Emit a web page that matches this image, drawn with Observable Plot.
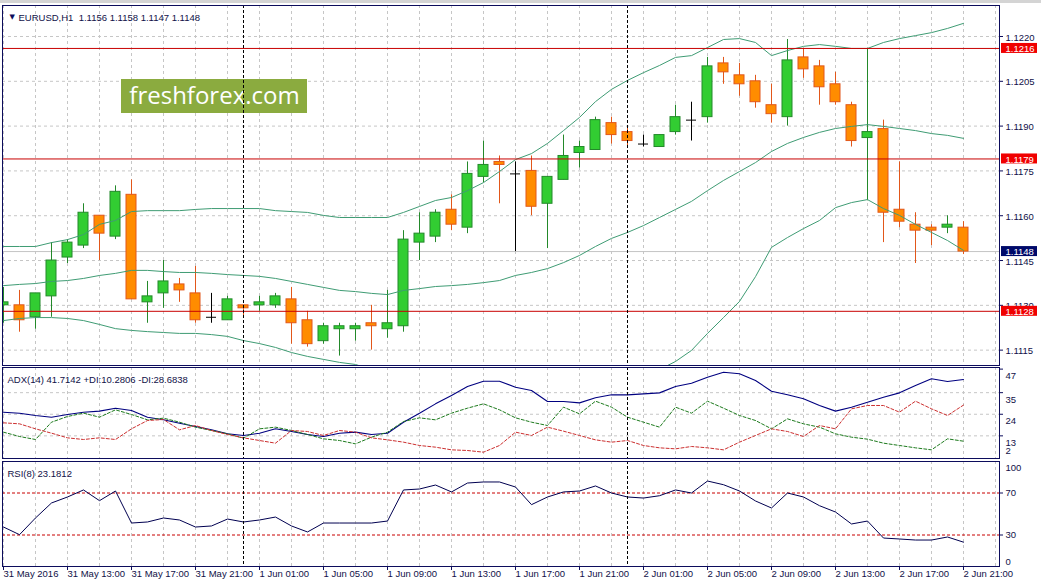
<!DOCTYPE html>
<html><head><meta charset="utf-8">
<script src="https://cdn.jsdelivr.net/npm/d3@7"></script>
<script src="https://cdn.jsdelivr.net/npm/@observablehq/plot@0.6"></script>
<style>
html,body{margin:0;padding:0;background:#fff;overflow:hidden;}
#wrap{position:relative;width:1041px;height:587px;overflow:hidden;background:#fff;}
#wrap svg{position:absolute;left:0;top:0;}
#topbar{position:absolute;left:0;top:0;width:1041px;height:3px;background:#d4d4d4;}
</style></head><body><div id="wrap"><div id="topbar"></div></div>
<script>
// ---------- DATA ----------
const open  = [1.1130,1.1130,1.1126,1.1133,1.1146,1.1150,1.1160,1.1153,1.1167,1.1131,
               1.1134,1.1137,1.1134,1.1126,1.1125,1.1130,1.1130,1.1130,1.1132,1.1125,
               1.1118,1.1122,1.1122,1.1124,1.1122,1.1123,1.1151,1.1153,1.1162,1.1156,
               1.1173,1.1178,1.1174,1.1175,1.1164,1.1172,1.1181,1.1182,1.1191,1.1188,
               1.1184,1.1183,1.1188,1.1192,1.1193,1.1211,1.1207,1.1205,1.1197,1.1193,
               1.1213,1.1210,1.1204,1.1197,1.1186,1.1189,1.1162,1.1157,1.1156,1.1156,
               1.1156];
const high  = [1.1136,1.1135,1.1134,1.1151,1.1152,1.1164,1.1160,1.1170,1.1172,1.1138,
               1.1145,1.1139,1.1143,1.1134,1.1133,1.1130,1.1133,1.1134,1.1136,1.1128,
               1.1124,1.1124,1.1124,1.1130,1.1135,1.1155,1.1161,1.1162,1.1167,1.1178,
               1.1185,1.1180,1.1178,1.1180,1.1173,1.1187,1.1185,1.1193,1.1193,1.1190,
               1.1187,1.1187,1.1197,1.1198,1.1213,1.1213,1.1211,1.1207,1.1204,1.1219,
               1.1216,1.1212,1.1208,1.1198,1.1216,1.1192,1.1178,1.1161,1.1157,1.1160,
               1.1158];
const low   = [1.1124,1.1121,1.1122,1.1126,1.1144,1.1149,1.1145,1.1152,1.1132,1.1124,
               1.1129,1.1131,1.1124,1.1124,1.1125,1.1126,1.1128,1.1129,1.1117,1.1116,
               1.1117,1.1113,1.1118,1.1115,1.1119,1.1121,1.1145,1.1151,1.1155,1.1154,
               1.1171,1.1164,1.1148,1.1160,1.1149,1.1172,1.1176,1.1182,1.1184,1.1183,
               1.1183,1.1183,1.1187,1.1185,1.1191,1.1204,1.1200,1.1196,1.1191,1.1190,
               1.1206,1.1197,1.1197,1.1183,1.1165,1.1151,1.1156,1.1144,1.1150,1.1154,
               1.1147];
const close = [1.1131,1.1125,1.1134,1.1145,1.1151,1.1161,1.1154,1.1168,1.1132,1.1133,
               1.1138,1.1135,1.1125,1.1126,1.1132,1.1129,1.1131,1.1133,1.1124,1.1117,
               1.1123,1.1123,1.1123,1.1123,1.1124,1.1152,1.1154,1.1161,1.1157,1.1174,
               1.1177,1.1177,1.1174,1.1163,1.1173,1.1180,1.1183,1.1192,1.1187,1.1185,
               1.1184,1.1187,1.1193,1.1192,1.1210,1.1208,1.1204,1.1198,1.1194,1.1212,
               1.1209,1.1203,1.1198,1.1185,1.1188,1.1161,1.1158,1.1155,1.1155,1.1157,
               1.1148];
const bbUpper = [1.11497,1.11497,1.11497,1.11510,1.11520,1.11537,1.11571,1.11584,1.11614,1.11617,
                 1.11617,1.11617,1.11621,1.11624,1.11624,1.11624,1.11624,1.11617,1.11614,1.11611,
                 1.11601,1.11594,1.11594,1.11594,1.11594,1.11611,1.11631,1.11651,1.11661,1.11684,
                 1.11711,1.11748,1.11788,1.11808,1.11842,1.11885,1.11929,1.11982,1.12023,1.12053,
                 1.12079,1.12103,1.12130,1.12136,1.12163,1.12190,1.12193,1.12180,1.12136,1.12153,
                 1.12167,1.12173,1.12167,1.12160,1.12160,1.12180,1.12193,1.12203,1.12213,1.12227,
                 1.12244];
const bbMiddle = [1.11366,1.11370,1.11373,1.11380,1.11383,1.11390,1.11400,1.11407,1.11417,1.11417,
                  1.11413,1.11410,1.11410,1.11407,1.11403,1.11400,1.11397,1.11390,1.11380,1.11370,
                  1.11360,1.11350,1.11346,1.11340,1.11336,1.11350,1.11356,1.11363,1.11366,1.11370,
                  1.11376,1.11383,1.11400,1.11410,1.11423,1.11443,1.11467,1.11497,1.11524,1.11544,
                  1.11567,1.11594,1.11621,1.11648,1.11684,1.11718,1.11748,1.11778,1.11815,1.11842,
                  1.11862,1.11879,1.11892,1.11899,1.11905,1.11899,1.11892,1.11885,1.11875,1.11869,
                  1.11859];
const bbLower = [1.11249,1.11256,1.11259,1.11259,1.11256,1.11249,1.11236,1.11222,1.11216,1.11212,
                 1.11209,1.11206,1.11206,1.11202,1.11196,1.11182,1.11172,1.11159,1.11142,1.11129,
                 1.11119,1.11109,1.11102,1.11085,1.11078,1.11088,1.11082,1.11075,1.11072,1.11055,
                 1.11042,1.11018,1.11011,1.11011,1.11005,1.11001,1.11005,1.11011,1.11025,1.11035,
                 1.11055,1.11085,1.11112,1.11149,1.11206,1.11259,1.11313,1.11396,1.11494,1.11527,
                 1.11557,1.11584,1.11627,1.11644,1.11654,1.11624,1.11601,1.11571,1.11544,1.11517,
                 1.11484];
const adx = [25.05,24.5,23.4,22.5,23.9,25.05,25.6,27.1,25.9,22.5,
             21.2,19.45,17.8,16.1,14.05,13.2,14.35,16.6,15.2,13.7,
             12.7,14.35,14.9,13.7,14.35,19.96,24.5,29.3,33.6,38.1,
             40.8,40.8,37.8,36.1,30.5,30.5,29.8,32.4,33.9,33.9,
             34.4,34.9,38.1,39.8,42.9,45.4,44.6,41.2,35.75,33.9,
             31.9,28.5,25.6,27.6,30.1,32.7,34.9,38.65,42.1,40.7,
             41.71];
const plusDI = [14.88,12.67,11.14,19.97,22.86,24.56,22.52,26.26,23.88,21.16,
                22.01,19.97,17.43,15.73,14.03,11.82,16.58,17.43,15.73,13.69,
                11.48,10.63,8.93,12.33,14.88,20.31,22.18,21.16,24.56,27.11,
                29.31,26.26,22.18,19.97,18.27,27.62,24.22,30.67,27.62,22.52,
                19.97,17.43,27.62,24.56,30.67,27.11,23.37,20.82,16.58,21.67,
                19.12,17.43,14.03,12.33,11.31,9.28,8.09,6.9,5.88,11.48,
                10.28];
const minusDI = [19.64,19.12,16.58,14.37,11.99,11.14,11.99,11.14,16.58,20.82,
                 21.33,16.07,18.27,15.73,13.69,11.99,10.63,9.28,15.73,15.22,
                 13.18,15.73,14.88,11.99,10.97,9.79,8.09,7.24,5.88,5.54,
                 4.69,8.09,14.88,13.18,17.43,15.39,13.18,10.97,9.79,10.63,
                 8.09,6.9,6.39,7.58,6.9,5.88,9.79,13.18,16.58,15.22,
                 12.67,18.27,16.58,26.77,28.47,28.47,25.07,30.67,26.77,23.37,
                 28.68];
const rsi = [37.6,30.3,46.2,60.5,66.2,72.9,62.7,71.9,41.4,42.4,
             46.2,44.3,37.6,38.6,45.2,42.4,44.3,47.1,38.6,32.9,
             41.4,41.4,41.4,41.4,43.3,72.9,73.8,77.6,71.0,79.5,
             80.5,80.5,75.7,58.9,66.2,71.0,71.9,76.7,70.0,66.2,
             65.2,67.4,72.9,70.0,81.4,77.9,71.9,62.4,55.7,70.0,
             66.2,57.9,51.9,40.5,43.3,27.1,26.2,25.2,25.2,28.1,
             23.18];
const timeLabels = ["31 May 2016","31 May 13:00","31 May 17:00","31 May 21:00","1 Jun 01:00","1 Jun 05:00",
                    "1 Jun 09:00","1 Jun 13:00","1 Jun 17:00","1 Jun 21:00","2 Jun 01:00","2 Jun 05:00",
                    "2 Jun 09:00","2 Jun 13:00","2 Jun 17:00","2 Jun 21:00"];
const timeLabelBars = [0,4,8,12,16,20,24,28,32,36,40,44,48,52,56,60];
const separatorBars = [15,39];
const priceTicks = [1.1220,1.1205,1.1190,1.1175,1.1160,1.1145,1.1130,1.1115];
const hLevels = [1.1216,1.1179,1.1128];
const lastPrice = 1.1148;
const adxTicks = [47,35,24,13];
const adxTickLabels = ["47","35","24","13"];
const adxMinLabel = [2];
const rsiLevels = [70,30];
const rsiEdgeTop = [100], rsiEdgeBottom = [0];
const headerMain = "EURUSD,H1  1.1156 1.1158 1.1147 1.1148";
const headerADX = "ADX(14) 41.7142 +DI:10.2806 -DI:28.6838";
const headerRSI = "RSI(8) 23.1812";
const watermark = "freshforex.com";

// ---------- LAYOUT / STYLE ----------
const W = 1041, H = 587;
const X0 = 2, X1 = 999;
const xDomain = [-0.0625, 62.25];           // 16 px per bar
const bx = px => xDomain[0] + (px - X0) / 16;
const FONT = "Liberation Sans, Arial, sans-serif";
const FS = 9.5;
const NAVY = "#0c0c5c", TEXT = "#101048", GRID = "#c6c6c6";
const GREEN = "#32cd32", GREEN_D = "#23892a", ORANGE = "#ff8c00", ORANGE_D = "#e2571a";
const BAND = "#3f9c74", LEVEL = "#c80000";
const gridBars = d3.range(0, 63, 2);
const wrap = document.getElementById("wrap");

// main panel
const MT = 5, MB = 365;
const pDomain = [1.1109856, 1.1230378];
const pxPerPrice = (MB - MT) / (pDomain[1] - pDomain[0]);
const py = px => pDomain[1] - (px - MT) / pxPerPrice;
const bars = open.map((o, i) => ({i, o, h: high[i], l: low[i], c: close[i]}));
const up = bars.filter(d => d.c > d.o), dn = bars.filter(d => d.c < d.o), dj = bars.filter(d => d.c === d.o);
const hw = 0.3125;
const boxH = 5 / pxPerPrice;

const base = {width: W, height: H, marginLeft: X0, marginRight: W - X1,
  x: {domain: xDomain, axis: null},
  style: {background: "transparent", overflow: "visible", fontFamily: FONT}};

const main = Plot.plot({...base, marginTop: MT, marginBottom: H - MB,
  y: {domain: pDomain, axis: null},
  marks: [
    Plot.ruleX(gridBars, {x: d => d, stroke: GRID, strokeDasharray: "3,3"}),
    Plot.ruleY(priceTicks, {y: d => d, stroke: GRID, strokeDasharray: "3,3"}),
    Plot.rect([watermark], {x1: () => bx(121), x2: () => bx(307), y1: () => py(79), y2: () => py(113), fill: "#8bab3f"}),
    Plot.text([watermark], {x: () => bx(214), y: () => py(96), text: d => d, fill: "white", fontSize: 24, fontFamily: "Open Sans"}),
    Plot.ruleY([lastPrice], {y: d => d, stroke: "#c4c4c4"}),
    Plot.ruleX(up, {x: "i", y1: "l", y2: "h", stroke: GREEN_D, clip: true}),
    Plot.rect(up, {x1: d => d.i - hw, x2: d => d.i + hw, y1: "o", y2: "c", fill: GREEN, stroke: GREEN_D, clip: true}),
    Plot.ruleX(dn, {x: "i", y1: "l", y2: "h", stroke: ORANGE_D, clip: true}),
    Plot.rect(dn, {x1: d => d.i - hw, x2: d => d.i + hw, y1: "o", y2: "c", fill: ORANGE, stroke: ORANGE_D, clip: true}),
    Plot.ruleX(dj, {x: "i", y1: "l", y2: "h", stroke: "black", clip: true}),
    Plot.ruleY(dj, {y: "o", x1: d => d.i - hw, x2: d => d.i + hw, stroke: "black", clip: true}),
    Plot.lineY(bbUpper, {stroke: BAND, strokeWidth: 1, clip: true}),
    Plot.lineY(bbMiddle, {stroke: BAND, strokeWidth: 1, clip: true}),
    Plot.lineY(bbLower, {stroke: BAND, strokeWidth: 1, clip: true}),
    Plot.ruleY(hLevels, {y: d => d, stroke: LEVEL}),
    Plot.ruleX(separatorBars, {x: d => d, stroke: "black", strokeDasharray: "3,2"}),
    Plot.frame({stroke: NAVY}),
    Plot.ruleY(priceTicks, {y: d => d, x1: () => bx(999), x2: () => bx(1003), stroke: NAVY}),
    Plot.text(priceTicks, {x: () => bx(1005), y: d => d, text: d => d.toFixed(4), textAnchor: "start", dy: 1, fill: TEXT, fontSize: FS}),
    Plot.rect(hLevels, {x1: () => bx(1001), x2: () => bx(1037), y1: d => d - boxH, y2: d => d + boxH, fill: "#f00000"}),
    Plot.text(hLevels, {x: () => bx(1005), y: d => d, text: d => d.toFixed(4), textAnchor: "start", dy: 0.5, fill: "white", fontSize: FS}),
    Plot.rect([lastPrice], {x1: () => bx(1001), x2: () => bx(1037), y1: d => d - boxH, y2: d => d + boxH, fill: "#000a6a"}),
    Plot.text([lastPrice], {x: () => bx(1005), y: d => d, text: d => d.toFixed(4), textAnchor: "start", dy: 0.5, fill: "white", fontSize: FS}),
    Plot.text(["\u25BC"], {frameAnchor: "top-left", dx: 7, dy: 8.5, text: d => d, fill: NAVY, fontSize: 7, fontFamily: "DejaVu Sans"}),
    Plot.text([headerMain], {frameAnchor: "top-left", dx: 16, dy: 8.7, text: d => d, textAnchor: "start", fill: TEXT, fontSize: FS})
  ]});

// ADX panel
const AT = 367, AB = 458;
const adxPlot = Plot.plot({...base, marginTop: AT, marginBottom: H - AB,
  y: {domain: [1.466, 47.82], axis: null},
  marks: [
    Plot.ruleX(gridBars, {x: d => d, stroke: GRID, strokeDasharray: "3,3"}),
    Plot.ruleY(adxTicks.slice(1), {y: d => d, stroke: GRID, strokeDasharray: "3,3"}),
    Plot.lineY(adx, {stroke: "#000080", strokeWidth: 1.1, clip: true}),
    Plot.lineY(plusDI, {stroke: "#1e7b1e", strokeWidth: 1, strokeDasharray: "3,2", clip: true}),
    Plot.lineY(minusDI, {stroke: "#cc3030", strokeWidth: 1, strokeDasharray: "3,2", clip: true}),
    Plot.ruleX(separatorBars, {x: d => d, stroke: "black", strokeDasharray: "3,2"}),
    Plot.frame({stroke: NAVY}),
    Plot.ruleY(adxTicks, {y: d => d, x1: () => bx(999), x2: () => bx(1003), stroke: NAVY}),
    Plot.text(adxTicks, {x: () => bx(1005), y: d => d, text: (d, i) => adxTickLabels[i], textAnchor: "start", dy: 7, fill: TEXT, fontSize: FS}),
    Plot.text(adxMinLabel, {x: () => bx(1005), y: d => d, text: d => String(d), textAnchor: "start", dy: -6, fill: TEXT, fontSize: FS}),
    Plot.text([headerADX], {frameAnchor: "top-left", dx: 5, dy: 9, text: d => d, textAnchor: "start", fill: TEXT, fontSize: FS})
  ]});

// RSI panel
const RT = 461, RB = 566;
const rsiPx = (RB - RT) / 100;
const rsiPlot = Plot.plot({...base, marginTop: RT, marginBottom: H - RB,
  y: {domain: [0, 100], axis: null},
  marks: [
    Plot.ruleX(gridBars, {x: d => d, stroke: GRID, strokeDasharray: "3,3"}),
    Plot.ruleY(rsiLevels, {y: d => d, stroke: LEVEL, strokeDasharray: "3,2"}),
    Plot.lineY(rsi, {stroke: "#000050", strokeWidth: 1, clip: true}),
    Plot.ruleX(separatorBars, {x: d => d, stroke: "black", strokeDasharray: "3,2"}),
    Plot.frame({stroke: NAVY}),
    Plot.ruleY(rsiLevels, {y: d => d, x1: () => bx(999), x2: () => bx(1003), stroke: NAVY}),
    Plot.text(rsiLevels, {x: () => bx(1005), y: d => d, text: d => String(d), textAnchor: "start", fill: TEXT, fontSize: FS}),
    Plot.text(rsiEdgeTop, {x: () => bx(1005), y: d => d, text: d => String(d), textAnchor: "start", dy: 6, fill: TEXT, fontSize: FS}),
    Plot.text(rsiEdgeBottom, {x: () => bx(1005), y: d => d, text: d => String(d), textAnchor: "start", dy: -5, fill: TEXT, fontSize: FS}),
    Plot.ruleX(timeLabelBars, {x: d => d, y1: () => 0, y2: () => -4 / rsiPx, stroke: NAVY}),
    Plot.text(timeLabelBars, {x: d => d, frameAnchor: "bottom", dy: 10, dx: 0, text: (d, i) => timeLabels[i], textAnchor: "start", fill: TEXT, fontSize: FS}),
    Plot.text([headerRSI], {frameAnchor: "top-left", dx: 5, dy: 9, text: d => d, textAnchor: "start", fill: TEXT, fontSize: FS})
  ]});

wrap.appendChild(main);
wrap.appendChild(adxPlot);
wrap.appendChild(rsiPlot);
</script>
</body></html>
